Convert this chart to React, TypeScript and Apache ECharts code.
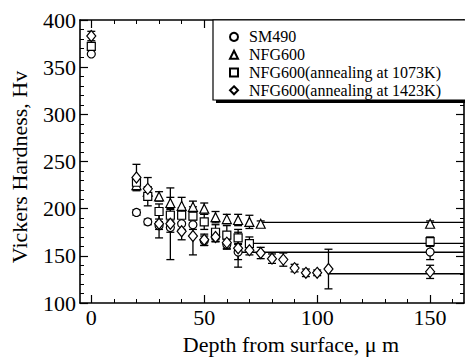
import React, { useEffect, useRef } from 'react';
import * as echarts from 'echarts';

// Depth (µm) and Vickers hardness (Hv) with ± error
const sm490X = [0, 20, 25, 30, 35, 40, 45, 50, 55, 60, 65, 150];
const sm490Y = [364, 196, 186, 182, 180, 184, 183, 166, 170, 162, 154, 154];
const sm490Err = [0, 3, 3, 4, 5, 6, 5, 5, 5, 5, 8, 8];

const nfgX = [20, 25, 30, 35, 40, 45, 50, 55, 60, 65, 70, 75, 150];
const nfgY = [225, 218, 213, 206, 203, 202, 200, 191, 189, 188, 186, 184, 184];
const nfgErr = [5, 5, 5, 6, 9, 6, 6, 6, 5, 6, 7, 3, 3];

const a1073X = [0, 20, 25, 30, 35, 40, 45, 50, 55, 60, 65, 70, 150];
const a1073Y = [372, 228, 213, 197, 193, 193, 192, 186, 175, 172, 169, 163, 165];
const a1073Err = [3, 5, 10, 8, 6, 8, 10, 8, 8, 10, 6, 7, 5];

const a1423X = [0, 20, 25, 30, 35, 40, 45, 50, 55, 60, 65, 70, 75, 80, 85, 90, 95, 100, 105, 150];
const a1423Y = [383, 233, 221, 184, 184, 176, 171, 167, 170, 164, 158, 156, 153, 147, 146, 137, 132, 132, 136, 133];
const a1423Err = [5, 14, 12, 15, 38, 9, 20, 6, 5, 6, 20, 5, 6, 5, 7, 4, 4, 3, 21, 7];

// Saturation levels: [start depth, hardness]
const sm490Level = [65, 153.8];
const nfgLevel = [75, 185.5];
const a1073Level = [70, 163.3];
const a1423Level = [105, 131];

const seriesNames = [
  'SM490',
  'NFG600',
  'NFG600(annealing at 1073K)',
  'NFG600(annealing at 1423K)',
];
const symbols = ['circle', 'triangle', 'rect', 'diamond'];
const symbolSizes: any[] = [8, 9, 8, [9, 11]];

const xMin = -5;
const xMax = 165;
const xMajor = [0, 50, 100, 150];
const xMinor = [10, 20, 30, 40, 60, 70, 80, 90, 110, 120, 130, 140, 160];

const FONT = 'Liberation Serif';

export default function App() {
  const ref = useRef<HTMLDivElement>(null);

  useEffect(() => {
    if (!ref.current) return;
    const chart = echarts.init(ref.current, undefined, { renderer: 'svg' });

    const sets = [
      { x: sm490X, y: sm490Y, e: sm490Err, level: sm490Level },
      { x: nfgX, y: nfgY, e: nfgErr, level: nfgLevel },
      { x: a1073X, y: a1073Y, e: a1073Err, level: a1073Level },
      { x: a1423X, y: a1423Y, e: a1423Err, level: a1423Level },
    ];

    const series: any[] = [];
    sets.forEach((s, i) => {
      series.push({
        type: 'line',
        name: seriesNames[i] + ' level',
        data: [
          [s.level[0], s.level[1]],
          [xMax, s.level[1]],
        ],
        showSymbol: false,
        symbol: 'none',
        lineStyle: { color: '#000', width: 1.3 },
        z: 1,
        silent: true,
      });
    });
    sets.forEach((s, i) => {
      const errData = s.x
        .map((x, k) => [x, s.y[k] - s.e[k], s.y[k] + s.e[k], s.e[k]])
        .filter((d) => d[3] > 0);
      series.push({
        type: 'custom',
        name: seriesNames[i] + ' error',
        data: errData,
        z: 2,
        silent: true,
        renderItem: (params: any, api: any) => {
          const x = api.value(0);
          const pLo = api.coord([x, api.value(1)]);
          const pHi = api.coord([x, api.value(2)]);
          const w = 4;
          const style = { stroke: '#000', lineWidth: 1.3, fill: 'none' };
          return {
            type: 'group',
            children: [
              { type: 'line', shape: { x1: pLo[0], y1: pLo[1], x2: pHi[0], y2: pHi[1] }, style },
              { type: 'line', shape: { x1: pLo[0] - w, y1: pLo[1], x2: pLo[0] + w, y2: pLo[1] }, style },
              { type: 'line', shape: { x1: pHi[0] - w, y1: pHi[1], x2: pHi[0] + w, y2: pHi[1] }, style },
            ],
          };
        },
      });
    });
    sets.forEach((s, i) => {
      series.push({
        type: 'scatter',
        name: seriesNames[i],
        data: s.x.map((x, k) => [x, s.y[k]]),
        symbol: symbols[i],
        symbolSize: symbolSizes[i],
        itemStyle: { color: '#fff', borderColor: '#000', borderWidth: 1.2, opacity: 1 },
        z: 3,
      });
    });

    const baseX = {
      type: 'value',
      min: xMin,
      max: xMax,
      gridIndex: 0,
      splitLine: { show: false },
    };

    chart.setOption({
      animation: false,
      backgroundColor: '#fff',
      textStyle: { fontFamily: FONT },
      grid: { left: 77, top: 20, right: 1, bottom: 57, containLabel: false },
      xAxis: [
        {
          ...baseX,
          position: 'bottom',
          name: 'Depth from surface, μ m',
          nameLocation: 'middle',
          nameGap: 30,
          nameTextStyle: { fontFamily: FONT, fontSize: 22, color: '#000', padding: [0, 0, 0, 38] },
          axisLine: { show: true, onZero: false, lineStyle: { color: '#000', width: 1.6 } },
          axisTick: { show: true, inside: true, length: 8, customValues: xMajor, lineStyle: { color: '#000', width: 1.2 } },
          axisLabel: { show: true, customValues: xMajor, fontFamily: FONT, fontSize: 22, color: '#000', margin: 3 },
        },
        {
          ...baseX,
          position: 'bottom',
          axisLine: { show: false, onZero: false },
          axisTick: { show: true, inside: true, length: 4, customValues: xMinor, lineStyle: { color: '#000', width: 1 } },
          axisLabel: { show: false },
        },
        {
          ...baseX,
          position: 'top',
          axisLine: { show: true, onZero: false, lineStyle: { color: '#000', width: 1.6 } },
          axisTick: { show: true, inside: true, length: 8, customValues: xMajor, lineStyle: { color: '#000', width: 1.2 } },
          axisLabel: { show: false },
        },
        {
          ...baseX,
          position: 'top',
          axisLine: { show: false, onZero: false },
          axisTick: { show: true, inside: true, length: 4, customValues: xMinor, lineStyle: { color: '#000', width: 1 } },
          axisLabel: { show: false },
        },
      ],
      yAxis: [
        {
          type: 'value',
          position: 'left',
          min: 100,
          max: 400,
          interval: 50,
          name: 'Vickers Hardness, Hv',
          nameLocation: 'middle',
          nameGap: 50,
          nameTextStyle: { fontFamily: FONT, fontSize: 22, color: '#000', padding: [0, 11, 0, 0] },
          splitLine: { show: false },
          axisLine: { show: true, onZero: false, lineStyle: { color: '#000', width: 1.6 } },
          axisTick: { show: true, inside: true, length: 8, lineStyle: { color: '#000', width: 1.2 } },
          minorTick: { show: true, splitNumber: 5, length: 4, lineStyle: { color: '#000', width: 1 } },
          axisLabel: { fontFamily: FONT, fontSize: 22, color: '#000', margin: 4 },
        },
        {
          type: 'value',
          position: 'right',
          min: 100,
          max: 400,
          interval: 50,
          splitLine: { show: false },
          axisLine: { show: true, onZero: false, lineStyle: { color: '#000', width: 1.6 } },
          axisTick: { show: true, inside: true, length: 8, lineStyle: { color: '#000', width: 1.2 } },
          minorTick: { show: true, splitNumber: 5, length: 4, lineStyle: { color: '#000', width: 1 } },
          axisLabel: { show: false },
        },
      ],
      legend: {
        data: seriesNames,
        orient: 'vertical',
        left: 224,
        top: 23,
        itemWidth: 8,
        itemHeight: 8,
        itemGap: 0,
        selectedMode: false,
        z: 10,
        textStyle: { fontFamily: FONT, fontSize: 16, color: '#000', lineHeight: 17.8, padding: [0, 0, 0, 6] },
      },
      graphic: [
        { type: 'rect', z: 8, shape: { x: 216, y: 23, width: 260, height: 80 }, style: { fill: '#000' } },
        { type: 'rect', z: 9, shape: { x: 213, y: 20, width: 260, height: 80 }, style: { fill: '#fff', stroke: '#000', lineWidth: 1.2 } },
      ],
      series,
    });

    return () => chart.dispose();
  }, []);

  return (
    <div
      ref={ref}
      style={{ position: 'absolute', left: 0, top: 0, width: 465, height: 360, background: '#fff' }}
    />
  );
}
